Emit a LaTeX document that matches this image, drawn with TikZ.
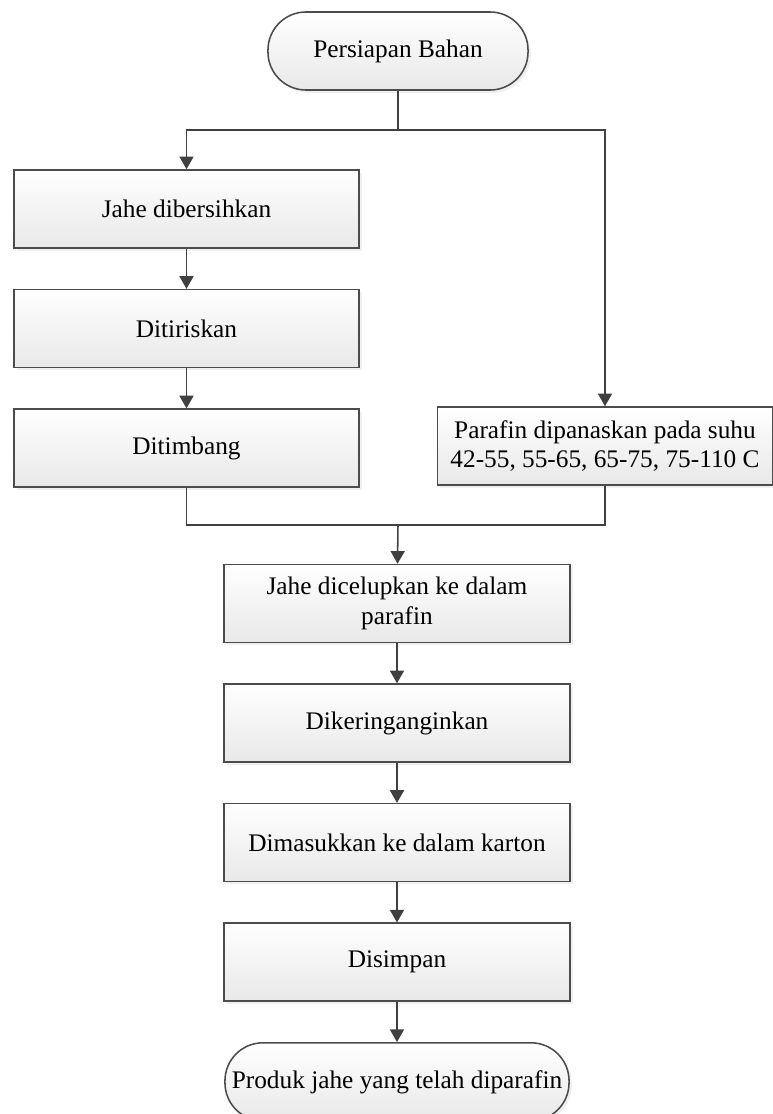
\documentclass[tikz,border=0pt]{standalone}
\usepackage{fontspec}
\setmainfont{Liberation Serif}
\usetikzlibrary{positioning,arrows.meta,shadows}

\begin{document}
\begin{tikzpicture}[x=0.025cm,y=-0.025cm,node distance=1cm,
kotak/.style={shape=rectangle,draw=black!70,line width=1.1pt,align=center,font=\fontsize{18}{21}\selectfont,top color=white,bottom color=black!9,drop shadow={opacity=0.12,shadow xshift=2pt,shadow yshift=-2pt},inner sep=2pt},
proses/.style={kotak,minimum width=8.625cm,minimum height=1.95cm},
terminal/.style={kotak,rounded corners=0.95cm,minimum height=1.95cm},
garis/.style={draw=black!75,line width=1.1pt},
alur/.style={garis,-{Triangle[width=10pt,length=9pt]}}]

\useasboundingbox (0,0) rectangle (772,1114);

\node [terminal, minimum width=6.5cm] (mulai) at (398,51) {Persiapan Bahan};
\node [proses] (bersih) at (186.5,209) {Jahe dibersihkan};
\node [proses, below=of bersih] (tiris) {Ditiriskan};
\node [proses, below=of tiris] (timbang) {Ditimbang};
\node [proses, minimum width=8.375cm] (parafin) at (605,446) {Parafin dipanaskan pada suhu\\42-55, 55-65, 65-75, 75-110 C};
\node [proses, minimum width=8.65cm] (celup) at (397,603.5) {Jahe dicelupkan ke dalam\\parafin};
\node [proses, minimum width=8.65cm, below=of celup] (kering) {Dikeringanginkan};
\node [proses, minimum width=8.65cm, below=of kering] (karton) {Dimasukkan ke dalam karton};
\node [proses, minimum width=8.65cm, below=of karton] (simpan) {Disimpan};
\node [terminal, minimum width=8.6cm, below=of simpan] (produk) {Produk jahe yang telah diparafin};

\coordinate (cabang) at (398,130);
\coordinate (gabung) at (398,525);

\draw[garis] (mulai) -- (cabang);
\draw[alur] (cabang) -| (bersih);
\draw[alur] (cabang) -| (parafin);
\draw[alur] (bersih) -- (tiris);
\draw[alur] (tiris) -- (timbang);
\draw[garis] (timbang) |- (gabung);
\draw[garis] (parafin) |- (gabung);
\draw[alur] (gabung) -- (celup);
\draw[alur] (celup) -- (kering);
\draw[alur] (kering) -- (karton);
\draw[alur] (karton) -- (simpan);
\draw[alur] (simpan) -- (produk);

\end{tikzpicture}
\end{document}
